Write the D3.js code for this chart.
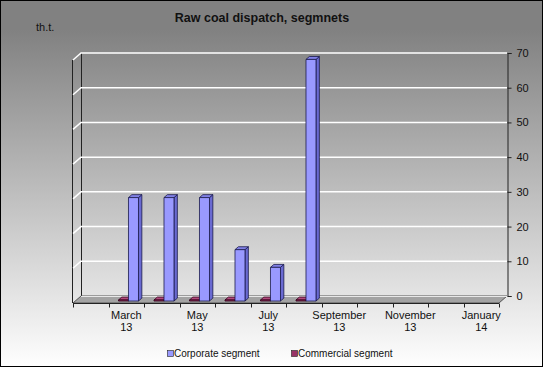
<!DOCTYPE html>
<html>
<head>
<meta charset="utf-8">
<script src="https://cdn.jsdelivr.net/npm/d3@7"></script>
<style>
  body { margin: 0; }
  svg { display: block; font-family: "Liberation Sans", Arial, sans-serif; }
  .y-axis .domain, .y-axis line { stroke: #222; }
  .y-axis text { font-size: 11px; fill: #111; }
</style>
</head>
<body>
<div id="chart"></div>
<script>
// data
const months = ['Feb 13', 'Mar 13', 'Apr 13', 'May 13', 'Jun 13', 'Jul 13',
                'Aug 13', 'Sep 13', 'Oct 13', 'Nov 13', 'Dec 13', 'Jan 14'];
const tickMonths = ['', 'March', '', 'May', '', 'July', '', 'September', '', 'November', '', 'January'];
const tickYears  = ['', '13', '', '13', '', '13', '', '13', '', '13', '', '14'];
const seriesNames = ['Commercial segment', 'Corporate segment'];
const commercial = [null, 0.3, 0.3, 0.3, 0.3, 0.3, 0.3, null, null, null, null, null];
const corporate  = [null, 29.8, 29.8, 29.8, 14.8, 9.7, 69.6, null, null, null, null, null];
const legendOrder = ['Corporate segment', 'Commercial segment'];

const width = 543, height = 368;
const depth = {x: 8, y: 7};   // 3d offset from back wall to front edge
const tFront = 0.72, tBack = 0.3;

const colors = {
    'Corporate segment': {front: '#9999ff', side: '#6a6ad2', top: '#8181e6', stroke: '#1a1a4d'},
    'Commercial segment': {front: '#993366', side: '#6b2247', top: '#b04a7d', stroke: '#33001a'}
};

const svg = d3.select('#chart')
    .append('svg')
    .attr('width', width)
    .attr('height', height);

const defs = svg.append('defs');
const grad = defs.append('linearGradient')
    .attr('id', 'bg')
    .attr('gradientUnits', 'userSpaceOnUse')
    .attr('x1', 0).attr('y1', 30).attr('x2', 0).attr('y2', height);
grad.append('stop').attr('offset', 0).attr('stop-color', '#818181');
grad.append('stop').attr('offset', 1).attr('stop-color', '#ffffff');

svg.append('rect')
    .attr('x', 0.5).attr('y', 0.5)
    .attr('width', width - 1).attr('height', height - 2)
    .attr('fill', 'url(#bg)')
    .attr('stroke', '#000');

// scales on the back wall
const xScale = d3.scaleBand()
    .domain(months)
    .range([81, 507]);

const inner = d3.scaleBand()
    .domain(seriesNames)
    .range([0, xScale.bandwidth()])
    .paddingOuter(0.775);

const yScale = d3.scaleLinear()
    .domain([0, 70])
    .range([296, 53]);

const proj = (x, y, t) => [x - depth.x * t, y + depth.y * t];
const pts = arr => arr.map(p => p.join(',')).join(' ');

const [x0, x1] = xScale.range();
const [yb, yt] = yScale.range();

// left side wall
svg.append('polygon')
    .attr('points', pts([[x0, yt], [x0, yb], proj(x0, yb, 1), proj(x0, yt, 1)]))
    .attr('fill', 'url(#bg)')
    .attr('stroke', 'none');
svg.append('line')
    .attr('x1', x0 + 0.5).attr('x2', x0 + 0.5)
    .attr('y1', yt).attr('y2', yb)
    .attr('stroke', '#222');
svg.append('line')
    .attr('x1', proj(x0, 0, 1)[0] - 0.5).attr('x2', proj(x0, 0, 1)[0] - 0.5)
    .attr('y1', proj(0, yt, 1)[1]).attr('y2', proj(0, yb, 1)[1])
    .attr('stroke', '#222');
svg.append('line')
    .attr('x1', x0).attr('y1', yt)
    .attr('x2', proj(x0, yt, 1)[0]).attr('y2', proj(x0, yt, 1)[1])
    .attr('stroke', '#666');

// gridlines
const ticks = yScale.ticks(7);
svg.append('g')
    .selectAll('path')
    .data(ticks.filter(d => d > 0))
    .join('path')
    .attr('d', d => 'M' + proj(x0, yScale(d), 1).join(',') + 'L' + [x0, yScale(d)].join(',') + 'H' + x1)
    .attr('fill', 'none')
    .attr('stroke', '#ffffff')
    .attr('stroke-width', 1.5);

// floor
svg.append('polygon')
    .attr('points', pts([[x0, yb], [x1, yb], proj(x1, yb, 1), proj(x0, yb, 1)]))
    .attr('fill', '#a3a3a3')
    .attr('stroke', '#555')
    .attr('stroke-width', 1);
svg.append('line')
    .attr('x1', x0).attr('x2', x1).attr('y1', yb + 0.5).attr('y2', yb + 0.5)
    .attr('stroke', '#e8e8e8');

// bars
const seriesData = {'Commercial segment': commercial, 'Corporate segment': corporate};
const barData = [];
seriesNames.forEach(name => {
    seriesData[name].forEach((v, i) => {
        if (v !== null) barData.push({name, month: months[i], value: v});
    });
});

const bars = svg.append('g')
    .selectAll('g')
    .data(barData)
    .join('g');

bars.each(function(d) {
    const g = d3.select(this);
    const c = colors[d.name];
    const bx0 = xScale(d.month) + inner(d.name);
    const bx1 = bx0 + inner.bandwidth();
    const top = yScale(d.value);
    const f0t = proj(bx0, top, tFront), f1t = proj(bx1, top, tFront);
    const f1b = proj(bx1, yb, tFront), f0b = proj(bx0, yb, tFront);
    const b0t = proj(bx0, top, tBack), b1t = proj(bx1, top, tBack);
    const b1b = proj(bx1, yb, tBack);
    g.append('polygon')
        .attr('points', pts([f1t, b1t, b1b, f1b]))
        .attr('fill', c.side).attr('stroke', c.stroke).attr('stroke-width', 0.8);
    g.append('polygon')
        .attr('points', pts([f0t, b0t, b1t, f1t]))
        .attr('fill', c.top).attr('stroke', c.stroke).attr('stroke-width', 0.8);
    g.append('polygon')
        .attr('points', pts([f0t, f1t, f1b, f0b]))
        .attr('fill', c.front).attr('stroke', c.stroke).attr('stroke-width', 0.8);
});

// right value axis
const yAxis = d3.axisRight(yScale)
    .ticks(7)
    .tickSize(4)
    .tickPadding(5);
svg.append('g')
    .attr('class', 'y-axis')
    .attr('transform', 'translate(' + (x1 + 0.5) + ',0)')
    .call(yAxis);

// category axis along front edge of floor
const fx0 = proj(x0, 0, 1)[0], fy = Math.round(proj(0, yb, 1)[1]) + 0.5;
const xFront = d3.scaleBand().domain(months).range([fx0, proj(x1, 0, 1)[0]]);
const xAxis = svg.append('g').attr('class', 'x-axis');
xAxis.append('line')
    .attr('x1', fx0).attr('x2', xFront.range()[1])
    .attr('y1', fy).attr('y2', fy)
    .attr('stroke', '#222');
xAxis.selectAll('.tick')
    .data(months.concat(['end']))
    .join('line')
    .attr('class', 'tick')
    .attr('x1', (d, i) => Math.round(fx0 + i * xFront.step()) + 0.5)
    .attr('x2', (d, i) => Math.round(fx0 + i * xFront.step()) + 0.5)
    .attr('y1', fy).attr('y2', fy + 4)
    .attr('stroke', '#222');
const labels = xAxis.selectAll('.lab')
    .data(months)
    .join('text')
    .attr('class', 'lab')
    .attr('x', d => xFront(d) + xFront.bandwidth() / 2)
    .attr('y', 319)
    .attr('text-anchor', 'middle')
    .attr('font-size', 11)
    .attr('fill', '#111');
labels.append('tspan').text((d, i) => tickMonths[i]);
labels.append('tspan')
    .attr('x', d => xFront(d) + xFront.bandwidth() / 2)
    .attr('dy', 12)
    .text((d, i) => tickYears[i]);

// title and unit
svg.append('text')
    .attr('x', 262).attr('y', 22)
    .attr('text-anchor', 'middle')
    .attr('font-size', 12.5)
    .attr('font-weight', 'bold')
    .attr('fill', '#111')
    .text('Raw coal dispatch, segmnets');
svg.append('text')
    .attr('x', 36).attr('y', 31)
    .attr('font-size', 11)
    .attr('fill', '#111')
    .text('th.t.');

// legend
const legendX = [167, 291];
const legend = svg.append('g')
    .selectAll('g')
    .data(legendOrder)
    .join('g')
    .attr('transform', (d, i) => 'translate(' + legendX[i] + ',349)');
legend.append('rect')
    .attr('x', 0.5).attr('y', 1.5)
    .attr('width', 6).attr('height', 6)
    .attr('fill', d => colors[d].front)
    .attr('stroke', '#222').attr('stroke-width', 0.6);
legend.append('text')
    .attr('x', 7).attr('y', 8)
    .attr('font-size', 10)
    .attr('fill', '#111')
    .text(d => d);
</script>
</body>
</html>
